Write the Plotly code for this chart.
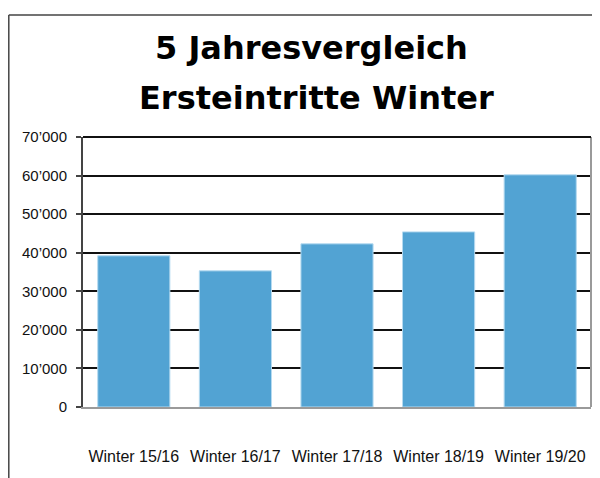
import plotly.graph_objects as go

categories = ["Winter 15/16", "Winter 16/17", "Winter 17/18", "Winter 18/19", "Winter 19/20"]
values = [39200, 35300, 42300, 45400, 60200]
y_tickvals = [0, 10000, 20000, 30000, 40000, 50000, 60000, 70000]
y_ticktext = ["0", "10\u2019000", "20\u2019000", "30\u2019000", "40\u2019000", "50\u2019000", "60\u2019000", "70\u2019000"]
title_lines = ["5 Jahresvergleich", "Ersteintritte Winter"]

# the page body adds an 8px offset, so the figure is 8px smaller each way
OFF = 8
W, H = 600 - OFF, 478 - OFF
ML, MR, MT, MB = 75, 9, 129, 71
PW = W - ML - MR
PH = H - MT - MB

def px_x(px):
    return (px - OFF - ML) / PW

def px_y(py):
    return (H - MB - (py - OFF)) / PH

fig = go.Figure()
fig.add_trace(go.Bar(
    x=categories, y=values,
    marker=dict(color="#52a3d3", line=dict(color="#b5daf0", width=1)),
    hoverinfo="skip",
))

fig.update_layout(
    width=W, height=H,
    margin=dict(l=ML, r=MR, t=MT, b=MB, autoexpand=False),
    paper_bgcolor="white", plot_bgcolor="white",
    bargap=0.29,
    showlegend=False,
    xaxis=dict(
        type="category", range=[-0.5, 4.5], automargin=False,
        showline=True, linecolor="#9a9a9a", linewidth=2,
        showgrid=False, ticks="",
        tickfont=dict(family="Liberation Sans", size=16, color="#111"),
        ticklabelstandoff=34,
        fixedrange=True,
    ),
    yaxis=dict(
        range=[0, 70000], automargin=False,
        tickvals=y_tickvals, ticktext=y_ticktext,
        showline=True, linecolor="#444", linewidth=2,
        showgrid=True, gridcolor="#111", gridwidth=2,
        ticks="outside", ticklen=5, tickcolor="#444", tickwidth=1.5,
        tickfont=dict(family="Liberation Sans", size=15, color="#111"),
        ticklabelstandoff=6,
        zeroline=False,
        fixedrange=True,
    ),
    shapes=[
        # right border of plot area
        dict(type="line", xref="paper", yref="paper", x0=1, x1=1, y0=0, y1=1,
             line=dict(color="#9a9a9a", width=2)),
        # top border of plot area (black, like the grid)
        dict(type="line", xref="paper", yref="paper", x0=0, x1=1, y0=1, y1=1,
             line=dict(color="#111", width=2)),
        # outer frame: top and left
        dict(type="line", xref="paper", yref="paper", x0=px_x(8.8), x1=px_x(601), y0=px_y(15), y1=px_y(15),
             line=dict(color="#444", width=1.5)),
        dict(type="line", xref="paper", yref="paper", x0=px_x(8.8), x1=px_x(8.8), y0=px_y(15), y1=px_y(479),
             line=dict(color="#444", width=1.5)),
    ],
    annotations=[
        dict(text="<b>%s</b>" % title_lines[0], xref="paper", yref="paper",
             x=px_x(311.5), y=px_y(48), xanchor="center", yanchor="middle", showarrow=False,
             font=dict(family="DejaVu Sans", size=32, color="#000")),
        dict(text="<b>%s</b>" % title_lines[1], xref="paper", yref="paper",
             x=px_x(316), y=px_y(98), xanchor="center", yanchor="middle", showarrow=False,
             font=dict(family="DejaVu Sans", size=32, color="#000")),
    ],
)

fig.write_html("out.html")
